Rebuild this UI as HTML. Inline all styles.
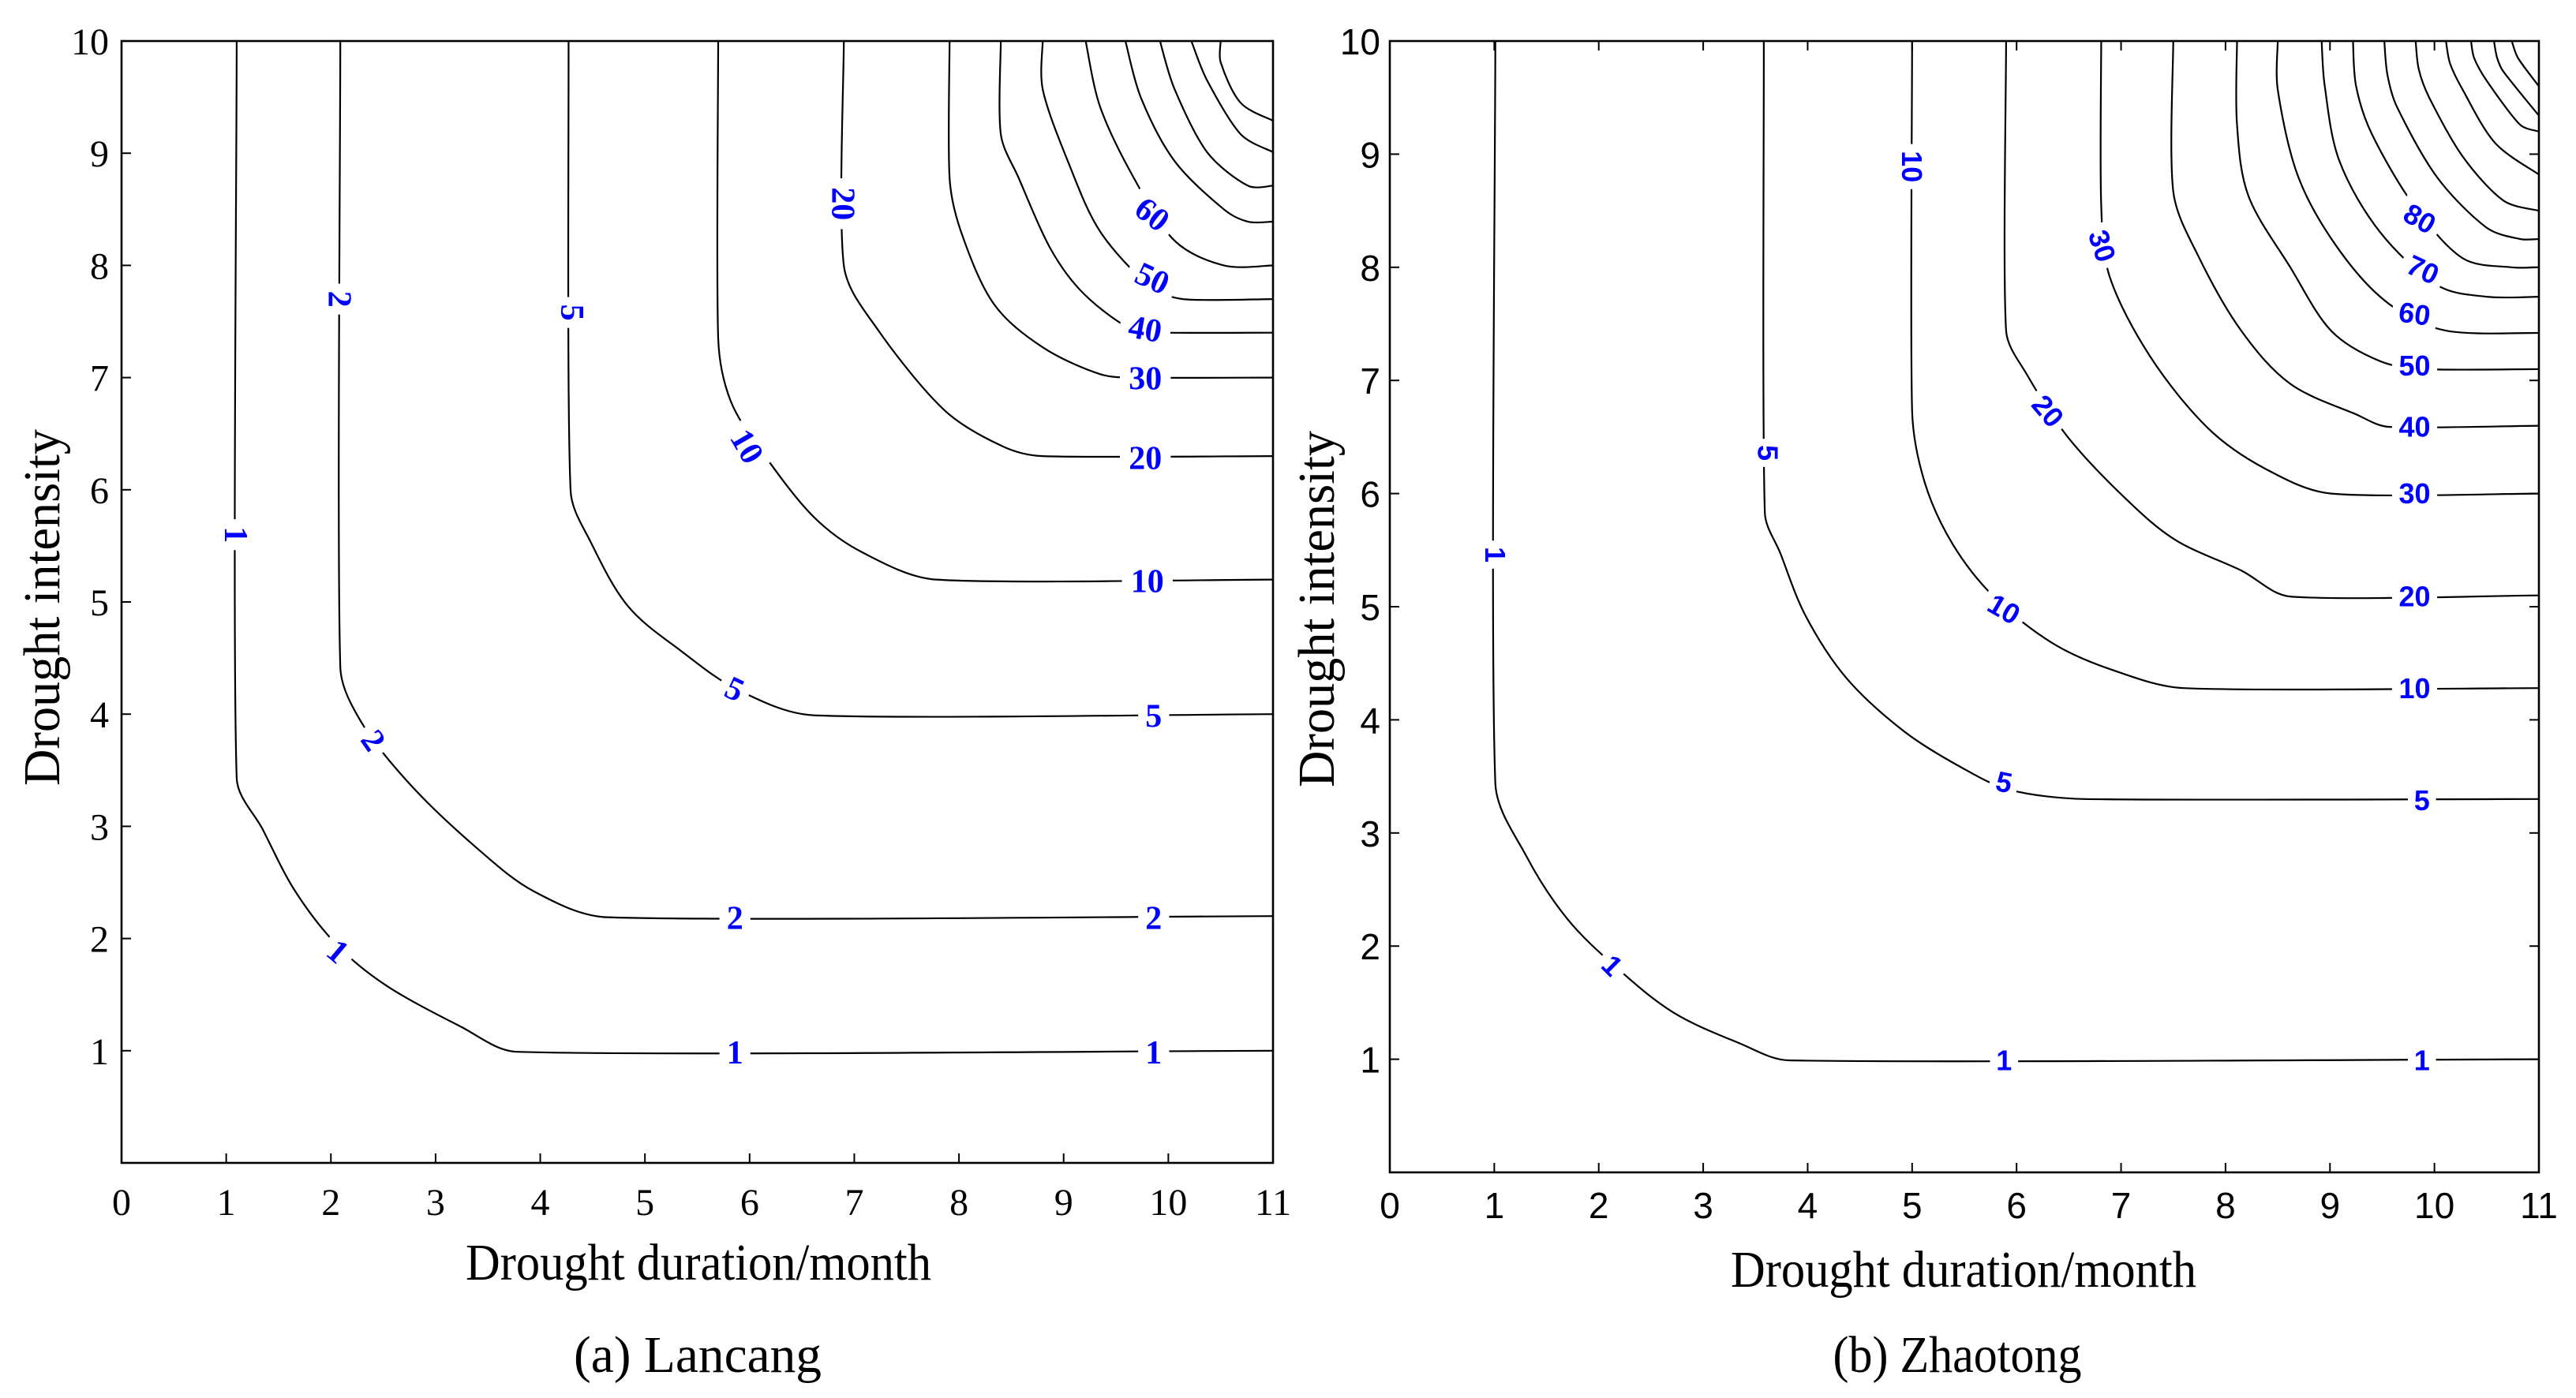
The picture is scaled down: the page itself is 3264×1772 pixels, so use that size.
<!DOCTYPE html>
<html><head><meta charset="utf-8"><style>
html,body{margin:0;padding:0;background:#fff;}
svg{display:block;}
</style></head><body>
<svg id="fig" width="3264" height="1772" viewBox="0 0 3264 1772" xmlns="http://www.w3.org/2000/svg">
<rect x="0" y="0" width="3264" height="1772" fill="#fff"/>
<g id="pa"></g>
<g id="pb"></g>
</svg>
<script>
// ---- Panel (a) Lancang data ----
const xTicks = [0,1,2,3,4,5,6,7,8,9,10,11];
const yTicks = [1,2,3,4,5,6,7,8,9,10];
const aLevels = [1,2,5,10,20,30,40,50,60,70,80,90,100];
const aContours = [
 [[1.10,10],[1.10,3.43],[1.35,2.97],[1.66,2.42],[2.06,1.94],[2.53,1.58],[3.23,1.22],[3.78,0.99],[11,1.0]],
 [[2.09,10],[2.09,4.42],[2.29,3.93],[2.76,3.37],[3.39,2.81],[3.94,2.42],[4.64,2.19],[11,2.2]],
 [[4.27,10],[4.29,5.99],[4.49,5.52],[4.84,4.96],[5.35,4.56],[5.90,4.21],[6.61,3.99],[11,4.0]],
 [[5.70,10],[5.70,7.35],[5.82,6.79],[6.14,6.31],[6.61,5.76],[7.08,5.44],[7.78,5.2],[11,5.2]],
 [[6.90,10],[6.90,8.0],[7.23,7.42],[7.86,6.71],[8.41,6.39],[8.80,6.30],[11,6.3]],
 [[7.91,10],[7.91,8.78],[8.02,8.30],[8.33,7.66],[8.80,7.27],[9.35,7.03],[9.7,7.0],[11,7.0]],
 [[8.40,10],[8.40,9.17],[8.57,8.78],[8.88,8.14],[9.20,7.74],[9.67,7.42],[10,7.4],[11,7.4]],
 [[8.80,10],[8.80,9.57],[9.04,8.93],[9.35,8.30],[9.82,7.82],[10.14,7.70],[11,7.7]],
 [[9.21,10],[9.35,9.41],[9.67,8.78],[10.06,8.22],[10.53,8.0],[11,8.0]],
 [[9.59,10],[9.74,9.49],[10.06,8.93],[10.53,8.50],[10.76,8.39],[11,8.39]],
 [[9.92,10],[10.06,9.57],[10.37,9.01],[10.76,8.71],[11,8.71]],
 [[10.22,10],[10.37,9.65],[10.69,9.17],[11,9.01]],
 [[10.50,10],[10.5,9.81],[10.69,9.45],[11,9.29]]
];
const aLabelText = ["1","2","5","20","10","5","2","1","2","2","1","1","5","10","20","30","40","50","60"];
const aLabelX = [1.10,2.09,4.31,6.90,5.98,5.86,2.41,2.07,5.86,9.86,5.86,9.86,9.86,9.80,9.78,9.78,9.78,9.85,9.85];
const aLabelY = [5.60,7.70,7.58,8.55,6.39,4.23,3.77,1.89,2.19,2.19,0.99,0.99,3.99,5.19,6.29,7.0,7.44,7.89,8.46];
const aLabelAng = [90,90,90,90,60,25,55,40,0,0,0,0,0,0,0,0,10,25,38];

// ---- Panel (b) Zhaotong data ----
const bLevels = [1,5,10,20,30,40,50,60,70,80,90,100,110,120,130,140];
const bContours = [
 [[1.01,10],[1.01,3.44],[1.31,2.79],[1.70,2.24],[2.17,1.81],[2.72,1.41],[3.35,1.14],[3.82,0.99],[11,1.0]],
 [[3.58,10],[3.59,5.83],[3.74,5.47],[3.98,4.92],[4.37,4.37],[4.92,3.90],[5.47,3.58],[5.94,3.38],[6.65,3.30],[11,3.3]],
 [[5.0,10],[5.0,6.73],[5.12,6.10],[5.39,5.55],[5.79,5.08],[6.34,4.68],[6.89,4.45],[7.60,4.28],[11,4.28]],
 [[5.90,10],[5.90,7.44],[6.10,7.05],[6.49,6.50],[7.05,5.95],[7.52,5.59],[8.15,5.32],[8.62,5.09],[11,5.1]],
 [[6.81,10],[6.81,8.55],[6.89,7.92],[7.28,7.21],[7.83,6.58],[8.38,6.22],[9.01,6.0],[11,6.0]],
 [[7.50,10],[7.50,8.67],[7.75,8.08],[8.15,7.44],[8.62,6.97],[9.25,6.70],[9.56,6.59],[11,6.6]],
 [[8.11,10],[8.11,9.26],[8.22,8.63],[8.62,8.0],[9.01,7.44],[9.48,7.17],[9.9,7.1],[11,7.1]],
 [[8.50,10],[8.50,9.57],[8.70,8.79],[9.09,8.15],[9.56,7.68],[10.11,7.44],[11,7.42]],
 [[8.92,10],[8.95,9.6],[9.09,8.94],[9.48,8.31],[10.03,7.84],[10.5,7.74],[11,7.74]],
 [[9.22,10],[9.25,9.6],[9.40,9.18],[9.80,8.55],[10.27,8.08],[10.74,8.0],[11,8.0]],
 [[9.52,10],[9.55,9.7],[9.64,9.42],[10.03,8.79],[10.5,8.35],[10.82,8.25],[11,8.25]],
 [[9.82,10],[9.85,9.75],[9.95,9.50],[10.27,8.98],[10.66,8.59],[11,8.5]],
 [[10.11,10],[10.15,9.8],[10.27,9.57],[10.58,9.10],[11,8.82]],
 [[10.35,10],[10.38,9.85],[10.5,9.65],[10.82,9.26],[11,9.2]],
 [[10.57,10],[10.6,9.85],[10.66,9.73],[11,9.34]],
 [[10.74,10],[10.8,9.85],[11,9.6]]
];
const bLabelText = ["1","5","10","30","20","10","5","1","1","1","5","10","20","30","40","50","60","70","80"];
const bLabelX = [1.01,3.62,5.0,6.82,6.30,5.88,5.88,2.13,5.88,9.88,9.88,9.81,9.81,9.81,9.81,9.81,9.81,9.89,9.86];
const bLabelY = [5.46,6.36,8.89,8.19,6.73,4.98,3.45,1.83,0.99,0.99,3.29,4.28,5.09,6.0,6.59,7.13,7.59,7.98,8.43];
const bLabelAng = [90,90,90,72,50,30,12,45,0,0,0,0,0,0,0,0,8,25,30];

const NS = "http://www.w3.org/2000/svg";
function mk(tag, attrs, parent){
  const e = document.createElementNS(NS, tag);
  for (const k in attrs) e.setAttribute(k, attrs[k]);
  parent.appendChild(e); return e;
}
function smoothPath(P){
  // Catmull-Rom -> cubic Bezier, tension reduced near long straight segments
  let d = 'M'+P[0][0].toFixed(1)+' '+P[0][1].toFixed(1);
  for (let i=0;i<P.length-1;i++){
    const p0 = P[i-1]||P[i], p1=P[i], p2=P[i+1], p3=P[i+2]||P[i+1];
    const seg = Math.hypot(p2[0]-p1[0],p2[1]-p1[1]);
    const k = 1/6;
    let c1=[p1[0]+(p2[0]-p0[0])*k, p1[1]+(p2[1]-p0[1])*k];
    let c2=[p2[0]-(p3[0]-p1[0])*k, p2[1]-(p3[1]-p1[1])*k];
    const lim = seg/3;
    const clamp=(c,p)=>{const dx=c[0]-p[0],dy=c[1]-p[1],L=Math.hypot(dx,dy);return L>lim&&L>0?[p[0]+dx*lim/L,p[1]+dy*lim/L]:c;};
    c1=clamp(c1,p1); c2=clamp(c2,p2);
    d += ' C'+c1[0].toFixed(1)+' '+c1[1].toFixed(1)+' '+c2[0].toFixed(1)+' '+c2[1].toFixed(1)+' '+p2[0].toFixed(1)+' '+p2[1].toFixed(1);
  }
  return d;
}

function drawPanel(g, cfg){
  const sx = v => cfg.x0 + (v/11)*(cfg.x1-cfg.x0);
  const sy = v => cfg.yb - (v/10)*(cfg.yb-cfg.yt);
  cfg.contours.forEach((pts,i)=>{
    const P = pts.map(p=>[sx(p[0]), sy(p[1])]);
    const p = mk('path',{d:smoothPath(P),fill:'none',stroke:'#000','stroke-width':2.2}, g);
    
    
  });
  cfg.lt.forEach((t,i)=>{
    const x = sx(cfg.lx[i]), y = sy(cfg.ly[i]);
    const lg = mk('g',{transform:`translate(${x.toFixed(1)},${y.toFixed(1)}) rotate(${cfg.la[i]})`}, g);
    
    
    const w = t.length*cfg.lfs*0.6+14;
    mk('rect',{x:-w/2,y:-cfg.lfs*0.55,width:w,height:cfg.lfs*1.1,fill:'#fff'}, lg);
    const tx = mk('text',{x:0,y:cfg.lfs*0.35,'text-anchor':'middle','font-family':cfg.lfont,'font-size':cfg.lfs,'font-weight':'bold',fill:'#0000ff'}, lg);
    tx.textContent = t;
  });
  const box = mk('rect',{x:cfg.x0,y:cfg.yt,width:cfg.x1-cfg.x0,height:cfg.yb-cfg.yt,fill:'none',stroke:'#000','stroke-width':2.6}, g);
  
  
  xTicks.forEach(v=>{
    const x = sx(v);
    mk('line',{x1:x,y1:cfg.yb,x2:x,y2:cfg.yb-12,stroke:'#000','stroke-width':2}, g);
    if (cfg.allTicks) mk('line',{x1:x,y1:cfg.yt,x2:x,y2:cfg.yt+12,stroke:'#000','stroke-width':2}, g);
    const t = mk('text',{x:x,y:cfg.xtBase,'text-anchor':'middle','font-family':cfg.tfont,'font-size':cfg.tfs,fill:'#000'}, g);
    
    
    t.textContent = v;
  });
  yTicks.forEach(v=>{
    const y = sy(v);
    mk('line',{x1:cfg.x0,y1:y,x2:cfg.x0+12,y2:y,stroke:'#000','stroke-width':2}, g);
    if (cfg.allTicks) mk('line',{x1:cfg.x1,y1:y,x2:cfg.x1-12,y2:y,stroke:'#000','stroke-width':2}, g);
    const t = mk('text',{x:cfg.ytRight,y:y+17,'text-anchor':'end','font-family':cfg.tfont,'font-size':cfg.tfs,fill:'#000'}, g);
    
    
    t.textContent = v;
  });
  const xl = mk('text',{x:cfg.xlX,y:cfg.xlBase,'text-anchor':'middle','font-family':'Liberation Serif, serif','font-size':66,textLength:cfg.xlW,lengthAdjust:'spacingAndGlyphs',fill:'#000'}, g);
  
  
  xl.textContent = 'Drought duration/month';
  const yl = mk('text',{x:0,y:0,transform:`translate(${cfg.ylX},${cfg.ylY}) rotate(-90)`,'text-anchor':'middle','font-family':'Liberation Serif, serif','font-size':66,textLength:452,lengthAdjust:'spacingAndGlyphs',fill:'#000'}, g);
  
  
  yl.textContent = 'Drought intensity';
  const cap = mk('text',{x:cfg.capX,y:1739,'text-anchor':'middle','font-family':'Liberation Serif, serif','font-size':66,textLength:cfg.capW,lengthAdjust:'spacingAndGlyphs',fill:'#000'}, g);
  
  
  cap.textContent = cfg.caption;
}

drawPanel(document.getElementById('pa'), {
  x0:154, x1:1613, yt:52, yb:1474, contours:aContours, levels:aLevels,
  lt:aLabelText, lx:aLabelX, ly:aLabelY, la:aLabelAng, lfs:42, lfont:'Liberation Serif, serif',
  tfont:'Liberation Serif, serif', tfs:48, xtBase:1540, ytRight:138, allTicks:false,
  xlX:885, xlBase:1622, xlW:590, ylX:75, ylY:770, capX:884, capW:314, caption:'(a) Lancang'
});
drawPanel(document.getElementById('pb'), {
  x0:1761, x1:3217, yt:52, yb:1486, contours:bContours, levels:bLevels,
  lt:bLabelText, lx:bLabelX, ly:bLabelY, la:bLabelAng, lfs:36, lfont:'Liberation Sans, sans-serif',
  tfont:'Liberation Sans, sans-serif', tfs:46, xtBase:1544, ytRight:1749, allTicks:true,
  xlX:2488, xlBase:1631, xlW:590, ylX:1690, ylY:772, capX:2480, capW:315, caption:'(b) Zhaotong'
});
</script>
</body></html>
